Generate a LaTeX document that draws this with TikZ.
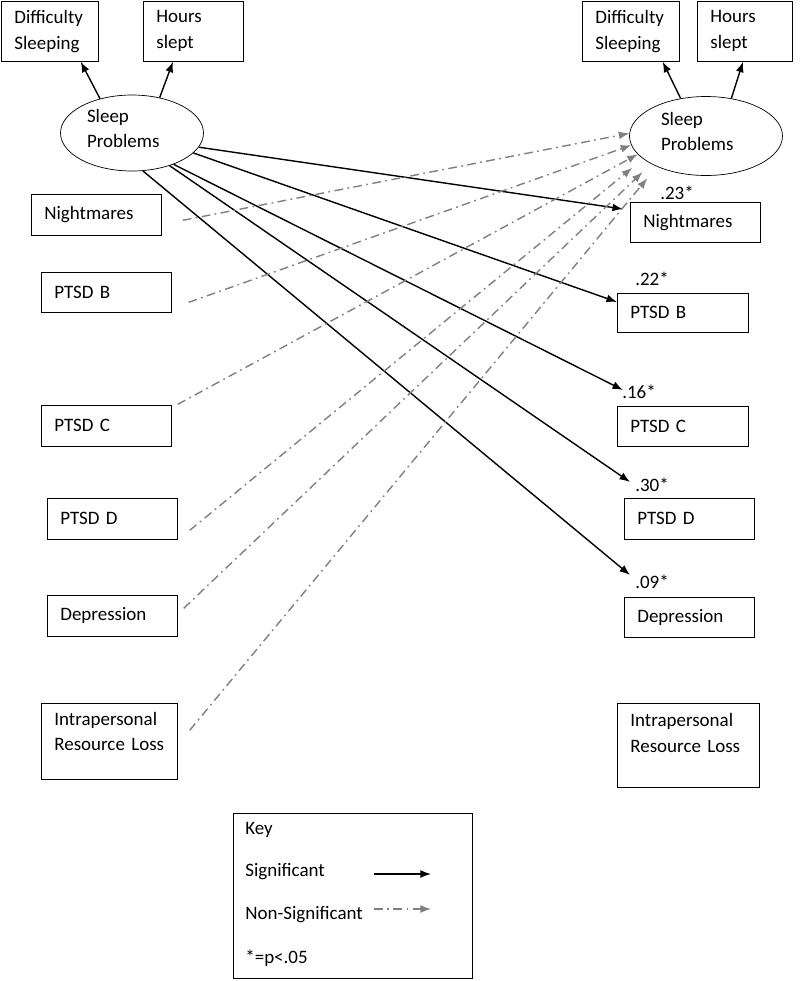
\documentclass[tikz,border=0pt]{standalone}
\usepackage{fontspec}
\setmainfont{Carlito}[WordSpace=0.8]
\usetikzlibrary{shapes.geometric,arrows.meta}

\begin{document}
\begin{tikzpicture}[
    x=0.02cm, y=-0.02cm,
    every node/.style={font=\fontsize{10.8}{14.7}\selectfont},
    box/.style={rectangle, draw, anchor=north west, align=left, inner xsep=0.26cm, inner ysep=0pt},
    latent/.style={ellipse, draw, align=left, text width=1.8cm, inner sep=0pt, text depth=20pt},
    sig/.style={-{Latex[length=6pt,width=4.5pt]}, line width=0.8pt},
    nonsig/.style={-{Latex[length=6pt,width=4.5pt]}, line width=0.8pt, gray, dash pattern=on 5pt off 2.5pt on 1pt off 2.5pt}
]
    \useasboundingbox (0,0) rectangle (800,981);

    % Zeitpunkt 1 links
    \node[box, text width=1.42cm, minimum height=1.2cm] (ds1) at (1,1) {Difficulty\\Sleeping};
    \node[box, text width=1.48cm, minimum height=1.2cm] (hs1) at (143,1) {Hours\\slept};
    \node[latent, minimum width=2.86cm, minimum height=1.52cm] (sp1) at (132,133) {Sleep\\Problems};
    \node[box, text width=2.08cm, minimum height=0.82cm] (nm1) at (31,194) {Nightmares};
    \node[box, text width=2.08cm, minimum height=0.8cm] (pb1) at (41,272) {PTSD B};
    \node[box, text width=2.08cm, minimum height=0.82cm] (pc1) at (41,405) {PTSD C};
    \node[box, text width=2.08cm, minimum height=0.82cm] (pd1) at (47,498) {PTSD D};
    \node[box, text width=2.08cm, minimum height=0.82cm] (dep1) at (47,595) {Depression};
    \node[box, text width=2.2cm, minimum height=1.52cm, text depth=26pt] (ir1) at (41,703) {Intrapersonal\\Resource Loss};

    % Zeitpunkt 2 rechts
    \node[box, text width=1.42cm, minimum height=1.2cm] (ds2) at (582,1) {Difficulty\\Sleeping};
    \node[box, text width=1.38cm, minimum height=1.2cm] (hs2) at (697,1) {Hours\\slept};
    \node[latent, minimum width=3.06cm, minimum height=1.58cm] (sp2) at (706,136) {Sleep\\Problems};
    \node[box, text width=2.08cm, minimum height=0.8cm] (nm2) at (630,202) {Nightmares};
    \node[box, text width=2.1cm, minimum height=0.78cm] (pb2) at (617,293) {PTSD B};
    \node[box, text width=2.1cm, minimum height=0.8cm] (pc2) at (617,406) {PTSD C};
    \node[box, text width=2.08cm, minimum height=0.82cm] (pd2) at (624,498) {PTSD D};
    \node[box, text width=2.08cm, minimum height=0.8cm] (dep2) at (624,597) {Depression};
    \node[box, text width=2.32cm, minimum height=1.68cm, text depth=29pt] (ir2) at (617,703) {Intrapersonal\\Resource Loss};

    % Koeffizienten
    \node (c1) at (677,193) {.23*};
    \node (c2) at (652,279) {.22*};
    \node (c3) at (639,392) {.16*};
    \node (c4) at (652,485) {.30*};
    \node (c5) at (652,582) {.09*};

    % Indikatoren
    \draw[sig] (sp1.133) -- ([xshift=-0.36cm]ds1.south east);
    \draw[sig] (sp1.52) -- ([xshift=0.6cm]hs1.south west);
    \draw[sig] (sp2.124) -- ([xshift=-0.34cm]ds2.south east);
    \draw[sig] (sp2.56) -- ([xshift=0.92cm]hs2.south west);

    % signifikante Pfade
    \draw[sig] (sp1.348) -- ([xshift=-0.14cm, yshift=-0.14cm]nm2.north west);
    \draw[sig] (sp1.342) -- ([yshift=-0.18cm]pb2.north west);
    \draw[sig] (sp1.323) -- ([xshift=0.12cm, yshift=0.32cm]pc2.north west);
    \draw[sig] (sp1.319) -- ([xshift=0.12cm, yshift=0.32cm]pd2.north west);
    \draw[sig] (sp1.286) -- ([xshift=0.12cm, yshift=0.44cm]dep2.north west);

    % nicht signifikante Pfade
    \draw[nonsig] ([xshift=0.42cm, yshift=-0.11cm]nm1.east) -- (sp2.178);
    \draw[nonsig] ([xshift=0.34cm, yshift=-0.2cm]pb1.east) -- (sp2.187);
    \draw[nonsig] ([xshift=0.12cm, yshift=0.43cm]pc1.east) -- (sp2.195);
    \draw[nonsig, shorten >=0.28cm] ([xshift=0.24cm, yshift=-0.23cm]pd1.east) -- (sp2.200);
    \draw[nonsig, shorten >=0.24cm] ([xshift=0.12cm, yshift=0.15cm]dep1.east) -- (sp2.207);
    \draw[nonsig, shorten >=0.3cm] ([xshift=0.24cm, yshift=0.22cm]ir1.east) -- (sp2.212);

    % Legende
    \node[box, minimum width=4.78cm, minimum height=3.3cm] (key) at (233,813) {};
    \node[anchor=west, inner sep=0pt] (keyt) at (245,830) {Key};
    \node[anchor=west, inner sep=0pt] (keys) at (245,872) {Significant};
    \node[anchor=west, inner sep=0pt] (keyn) at (245,915) {Non-Significant};
    \node[anchor=west, inner sep=0pt] (keyp) at (245,958) {*=p<.05};
    \coordinate (ks1) at (374,874);
    \coordinate (ke1) at (431,874);
    \coordinate (ks2) at (374,909);
    \coordinate (ke2) at (431,909);
    \draw[sig] (ks1) -- (ke1);
    \draw[nonsig] (ks2) -- (ke2);
\end{tikzpicture}
\end{document}
